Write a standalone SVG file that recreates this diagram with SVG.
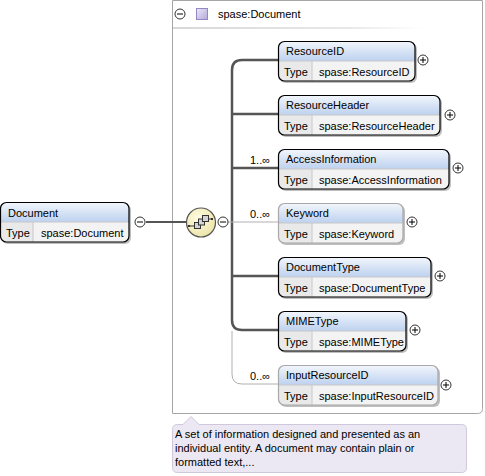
<svg xmlns="http://www.w3.org/2000/svg" width="485" height="476" viewBox="0 0 485 476">
<defs>
<linearGradient id="hdr" x1="0" y1="0" x2="0" y2="1">
<stop offset="0" stop-color="#f2f6fc"/>
<stop offset="1" stop-color="#bdd1ef"/>
</linearGradient>
<linearGradient id="sep" x1="0" y1="0" x2="1" y2="0">
<stop offset="0" stop-color="#d8d8d8"/>
<stop offset="0.7" stop-color="#e8e8e8"/>
<stop offset="1" stop-color="#ffffff"/>
</linearGradient>
<linearGradient id="purp" x1="0" y1="0" x2="1" y2="1">
<stop offset="0" stop-color="#ece8f8"/>
<stop offset="1" stop-color="#b4a8dc"/>
</linearGradient>
<radialGradient id="yel" cx="0.4" cy="0.35" r="0.7">
<stop offset="0" stop-color="#fffbe0"/>
<stop offset="1" stop-color="#ece4a8"/>
</radialGradient>
</defs>
<style>
text{font-family:"Liberation Sans",Arial,sans-serif;font-size:11px;fill:#000}
.shadow{fill:#000;opacity:0.25}
.hdr{fill:url(#hdr)}
.row{fill:#f3f3f3}
.tcell{fill:#e9e9e9}
.brd{fill:none;stroke:#000;stroke-width:1.2}
.obrd{fill:none;stroke:#a8a8a8;stroke-width:1.2}
.div{stroke:#c8c8c8;stroke-width:1}
.bus{fill:none;stroke:#555;stroke-width:2.5}
.opt{fill:none;stroke:#b0b0b0;stroke-width:1}
.btn{fill:#fff;stroke:#333;stroke-width:1}
.sym{stroke:#000;stroke-width:1}
.card{font-size:11px}
.sq{fill:#d4d4d4;stroke:#333;stroke-width:1}
</style>

<!-- outer complex type box -->
<g id="typebox">
<path d="M172.5,0.5 H482.5 V408.5 Q482.5,413.5 477.5,413.5 H172.5 Z" fill="#fff" stroke="#a6a6a6" stroke-width="1"/>
<rect x="173" y="27" width="250" height="2" fill="url(#sep)"/>
<circle cx="180" cy="14" r="5" class="btn"/>
<line x1="177" y1="14" x2="183" y2="14" class="sym"/>
<rect x="196.5" y="8.5" width="11" height="11" fill="url(#purp)" stroke="#9488c4"/>
<text x="218" y="18">spase:Document</text>
</g>

<!-- connectors -->
<g id="connectors">
<line x1="146" y1="222" x2="186" y2="222" stroke="#555" stroke-width="2"/>
<path class="bus" d="M278,60 H242 Q232,60 232,70 V320 Q232,330 242,330 H278"/>
<line class="bus" x1="232" y1="114" x2="278" y2="114"/>
<line class="bus" x1="232" y1="168" x2="278" y2="168"/>
<line class="bus" x1="232" y1="276" x2="278" y2="276"/>
<line class="opt" x1="228" y1="222" x2="278" y2="222"/>
<path class="opt" d="M232,331 V374 Q232,384 242,384 H278"/>
<text class="card" x="250" y="164">1..∞</text>
<text class="card" x="250" y="218">0..∞</text>
<text class="card" x="250" y="380">0..∞</text>
</g>

<!-- root element -->
<g id="Document">
<rect x="2" y="204" width="129" height="40" rx="6" class="shadow"/>
<path d="M6,202.5 H123 Q129,202.5 129,208.5 V222 H0.5 V208.5 Q0.5,202.5 6,202.5 Z" class="hdr"/>
<path d="M0.5,222 H129 V236 Q129,242 123,242 H6 Q0.5,242 0.5,236 Z" class="row"/>
<path d="M0.5,222 H33 V242 H6 Q0.5,242 0.5,236 Z" class="tcell"/>
<line x1="0.5" y1="222" x2="129" y2="222" class="div"/>
<line x1="33" y1="222" x2="33" y2="242" class="div"/>
<rect x="0.5" y="202.5" width="128.5" height="39.5" rx="6" class="brd"/>
<text x="8" y="217">Document</text>
<text x="6" y="237">Type</text>
<text x="41" y="237">spase:Document</text>
<circle cx="140" cy="222" r="5" class="btn"/>
<line x1="137" y1="222" x2="143" y2="222" class="sym"/>
</g>

<!-- sequence compositor -->
<g id="sequence">
<circle cx="201" cy="222.5" r="14.5" fill="url(#yel)" stroke="#555" stroke-width="1.2"/>
<line x1="189" y1="226" x2="194" y2="226" stroke="#333" stroke-width="1"/>
<line x1="208" y1="219" x2="212" y2="219" stroke="#333" stroke-width="1"/>
<rect x="188" y="225" width="2" height="2" fill="#333"/>
<rect x="211" y="218" width="2" height="2" fill="#333"/>
<rect x="194.5" y="222.5" width="6" height="6" class="sq"/>
<rect x="198.5" y="219" width="6" height="6" class="sq"/>
<rect x="202.5" y="215.5" width="6" height="6" class="sq"/>
<circle cx="223" cy="222" r="5" class="btn"/>
<line x1="220" y1="222" x2="226" y2="222" class="sym"/>
</g>

<!-- child elements -->
<g id="ResourceID">
<rect x="280" y="43" width="137" height="40" rx="6" class="shadow"/>
<path d="M284,41.5 H409 Q415,41.5 415,47.5 V61 H278.5 V47.5 Q278.5,41.5 284,41.5 Z" class="hdr"/>
<path d="M278.5,61 H415 V75 Q415,81 409,81 H284 Q278.5,81 278.5,75 Z" class="row"/>
<path d="M278.5,61 H312 V81 H284 Q278.5,81 278.5,75 Z" class="tcell"/>
<line x1="278.5" y1="61" x2="415" y2="61" class="div"/>
<line x1="312" y1="61" x2="312" y2="81" class="div"/>
<rect x="278.5" y="41.5" width="136.5" height="39.5" rx="6" class="brd"/>
<text x="286" y="55">ResourceID</text>
<text x="284" y="76">Type</text>
<text x="319" y="76">spase:ResourceID</text>
<circle cx="423" cy="60" r="5" class="btn"/>
<path d="M420,60 H426 M423,57 V63" class="sym"/>
</g>

<g id="ResourceHeader">
<rect x="280" y="97" width="162" height="40" rx="6" class="shadow"/>
<path d="M284,95.5 H434 Q440,95.5 440,101.5 V115 H278.5 V101.5 Q278.5,95.5 284,95.5 Z" class="hdr"/>
<path d="M278.5,115 H440 V129 Q440,135 434,135 H284 Q278.5,135 278.5,129 Z" class="row"/>
<path d="M278.5,115 H312 V135 H284 Q278.5,135 278.5,129 Z" class="tcell"/>
<line x1="278.5" y1="115" x2="440" y2="115" class="div"/>
<line x1="312" y1="115" x2="312" y2="135" class="div"/>
<rect x="278.5" y="95.5" width="161.5" height="39.5" rx="6" class="brd"/>
<text x="286" y="109">ResourceHeader</text>
<text x="284" y="130">Type</text>
<text x="319" y="130">spase:ResourceHeader</text>
<circle cx="450" cy="115" r="5" class="btn"/>
<path d="M447,115 H453 M450,112 V118" class="sym"/>
</g>

<g id="AccessInformation">
<rect x="280" y="151" width="171" height="40" rx="6" class="shadow"/>
<path d="M284,149.5 H443 Q449,149.5 449,155.5 V169 H278.5 V155.5 Q278.5,149.5 284,149.5 Z" class="hdr"/>
<path d="M278.5,169 H449 V183 Q449,189 443,189 H284 Q278.5,189 278.5,183 Z" class="row"/>
<path d="M278.5,169 H312 V189 H284 Q278.5,189 278.5,183 Z" class="tcell"/>
<line x1="278.5" y1="169" x2="449" y2="169" class="div"/>
<line x1="312" y1="169" x2="312" y2="189" class="div"/>
<rect x="278.5" y="149.5" width="170.5" height="39.5" rx="6" class="brd"/>
<text x="286" y="163">AccessInformation</text>
<text x="284" y="184">Type</text>
<text x="319" y="184">spase:AccessInformation</text>
<circle cx="458" cy="168" r="5" class="btn"/>
<path d="M455,168 H461 M458,165 V171" class="sym"/>
</g>

<g id="Keyword">
<rect x="280" y="205" width="125" height="40" rx="6" class="shadow"/>
<path d="M284,203.5 H397 Q403,203.5 403,209.5 V223 H278.5 V209.5 Q278.5,203.5 284,203.5 Z" class="hdr"/>
<path d="M278.5,223 H403 V237 Q403,243 397,243 H284 Q278.5,243 278.5,237 Z" class="row"/>
<path d="M278.5,223 H312 V243 H284 Q278.5,243 278.5,237 Z" class="tcell"/>
<line x1="278.5" y1="223" x2="403" y2="223" class="div"/>
<line x1="312" y1="223" x2="312" y2="243" class="div"/>
<rect x="278.5" y="203.5" width="124.5" height="39.5" rx="6" class="obrd"/>
<text x="286" y="217">Keyword</text>
<text x="284" y="238">Type</text>
<text x="319" y="238">spase:Keyword</text>
<circle cx="412" cy="222" r="5" class="btn"/>
<path d="M409,222 H415 M412,219 V225" class="sym"/>
</g>

<g id="DocumentType">
<rect x="280" y="259" width="153" height="40" rx="6" class="shadow"/>
<path d="M284,257.5 H425 Q431,257.5 431,263.5 V277 H278.5 V263.5 Q278.5,257.5 284,257.5 Z" class="hdr"/>
<path d="M278.5,277 H431 V291 Q431,297 425,297 H284 Q278.5,297 278.5,291 Z" class="row"/>
<path d="M278.5,277 H312 V297 H284 Q278.5,297 278.5,291 Z" class="tcell"/>
<line x1="278.5" y1="277" x2="431" y2="277" class="div"/>
<line x1="312" y1="277" x2="312" y2="297" class="div"/>
<rect x="278.5" y="257.5" width="152.5" height="39.5" rx="6" class="brd"/>
<text x="286" y="271">DocumentType</text>
<text x="284" y="292">Type</text>
<text x="319" y="292">spase:DocumentType</text>
<circle cx="440" cy="276" r="5" class="btn"/>
<path d="M437,276 H443 M440,273 V279" class="sym"/>
</g>

<g id="MIMEType">
<rect x="280" y="313" width="128" height="40" rx="6" class="shadow"/>
<path d="M284,311.5 H400 Q406,311.5 406,317.5 V331 H278.5 V317.5 Q278.5,311.5 284,311.5 Z" class="hdr"/>
<path d="M278.5,331 H406 V345 Q406,351 400,351 H284 Q278.5,351 278.5,345 Z" class="row"/>
<path d="M278.5,331 H312 V351 H284 Q278.5,351 278.5,345 Z" class="tcell"/>
<line x1="278.5" y1="331" x2="406" y2="331" class="div"/>
<line x1="312" y1="331" x2="312" y2="351" class="div"/>
<rect x="278.5" y="311.5" width="127.5" height="39.5" rx="6" class="brd"/>
<text x="286" y="325">MIMEType</text>
<text x="284" y="346">Type</text>
<text x="319" y="346">spase:MIMEType</text>
<circle cx="415" cy="330" r="5" class="btn"/>
<path d="M412,330 H418 M415,327 V333" class="sym"/>
</g>

<g id="InputResourceID">
<rect x="280" y="367" width="160" height="40" rx="6" class="shadow"/>
<path d="M284,365.5 H432 Q438,365.5 438,371.5 V385 H278.5 V371.5 Q278.5,365.5 284,365.5 Z" class="hdr"/>
<path d="M278.5,385 H438 V399 Q438,405 432,405 H284 Q278.5,405 278.5,399 Z" class="row"/>
<path d="M278.5,385 H312 V405 H284 Q278.5,405 278.5,399 Z" class="tcell"/>
<line x1="278.5" y1="385" x2="438" y2="385" class="div"/>
<line x1="312" y1="385" x2="312" y2="405" class="div"/>
<rect x="278.5" y="365.5" width="159.5" height="39.5" rx="6" class="obrd"/>
<text x="286" y="379">InputResourceID</text>
<text x="284" y="400">Type</text>
<text x="319" y="400">spase:InputResourceID</text>
<circle cx="446" cy="385" r="5" class="btn"/>
<path d="M443,385 H449 M446,382 V388" class="sym"/>
</g>

<!-- annotation tooltip -->
<g id="annotation">
<path d="M177.5,424.5 H183 L191,416.5 L199,424.5 H461.5 Q466.5,424.5 466.5,429.5 V467.5 Q466.5,472.5 461.5,472.5 H177.5 Q172.5,472.5 172.5,467.5 V429.5 Q172.5,424.5 177.5,424.5 Z" fill="#ece8f3" stroke="#cfc8dc" stroke-width="1"/>
<text x="175" y="438">A set of information designed and presented as an</text>
<text x="175" y="452">individual entity. A document may contain plain or</text>
<text x="175" y="466">formatted text,...</text>
</g>
</svg>
